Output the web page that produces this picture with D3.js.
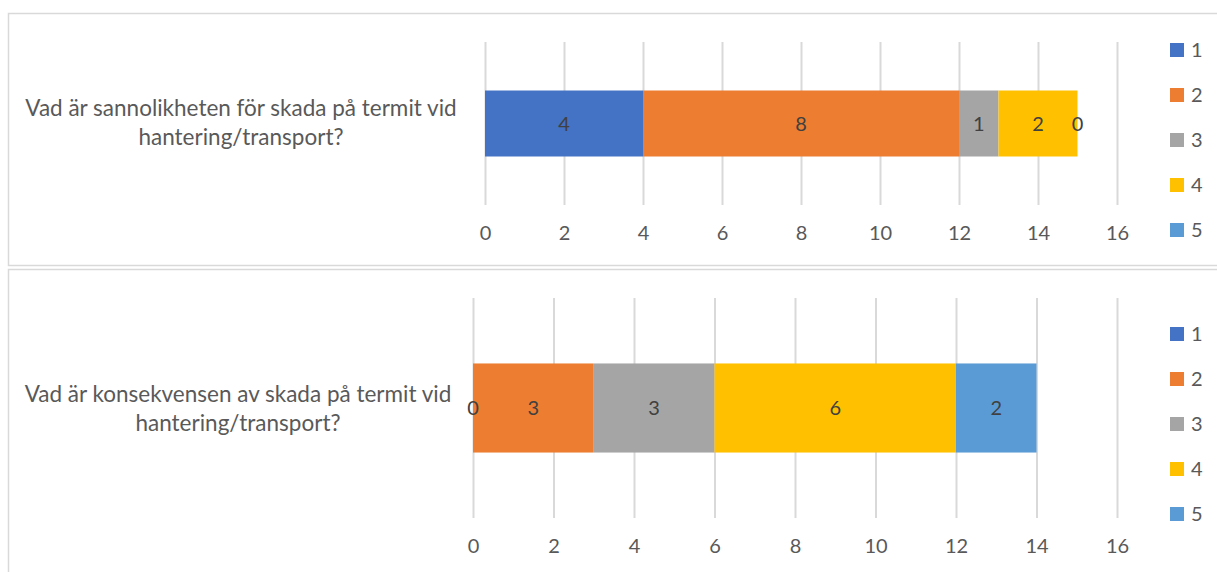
<!DOCTYPE html>
<html>
<head>
<meta charset="utf-8">
<script src="https://cdn.jsdelivr.net/npm/d3@7"></script>
<style>
  body { margin: 0; background: #fff; }
  text { font-family: Lato, "Open Sans", sans-serif; }
</style>
</head>
<body>
<div id="chart"></div>
<script>
// data
const seriesNames = ["1", "2", "3", "4", "5"];
const seriesColors = ["#4472C4", "#ED7D31", "#A5A5A5", "#FFC000", "#5B9BD5"];
const question1 = ["Vad är sannolikheten för skada på termit vid", "hantering/transport?"];
const question2 = ["Vad är konsekvensen av skada på termit vid", "hantering/transport?"];
const sannolikhet = [4, 8, 1, 2, 0];
const konsekvens = [0, 3, 3, 6, 2];
const xTicks = [0, 2, 4, 6, 8, 10, 12, 14, 16];

let svg = d3.select("#chart").append("svg")
    .attr("width", 1217)
    .attr("height", 572);

/* panel frames */
svg.append("rect")
    .attr("x", 8.5).attr("y", 13.5)
    .attr("width", 1230).attr("height", 252)
    .attr("fill", "none").attr("stroke", "#D9D9D9").attr("stroke-width", 1.5);

svg.append("rect")
    .attr("x", 8.5).attr("y", 269.5)
    .attr("width", 1230).attr("height", 320)
    .attr("fill", "none").attr("stroke", "#D9D9D9").attr("stroke-width", 1.5);

drawPanel({
  lines: question1, values: sannolikhet,
  left: 485, right: 1117, top: 42, bottom: 205,
  labelX: 241, labelY: 108, legendY: 50
});

drawPanel({
  lines: question2, values: konsekvens,
  left: 473, right: 1117, top: 298, bottom: 518,
  labelX: 238, labelY: 394, legendY: 334
});

function drawPanel(cfg) {

  let g = svg.append("g");
  let key = cfg.lines.join(" ");

  let xScale = d3.scaleLinear()
      .domain([0, 16])
      .range([cfg.left, cfg.right]);

  let yScale = d3.scaleBand()
      .domain([key])
      .range([cfg.top, cfg.bottom])
      .paddingInner(0)
      .paddingOuter(0.735);

  // gridlines
  let grid = g.append("g")
      .attr("transform", "translate(0," + cfg.bottom + ")")
      .call(d3.axisBottom(xScale).tickValues(xTicks).tickSize(-(cfg.bottom - cfg.top)).tickFormat(""));
  grid.select(".domain").remove();
  grid.selectAll("line").attr("stroke", "#D9D9D9").attr("stroke-width", 2);

  // tick labels
  let axis = g.append("g")
      .attr("transform", "translate(0," + cfg.bottom + ")")
      .call(d3.axisBottom(xScale).tickValues(xTicks).tickSize(0).tickPadding(21));
  axis.select(".domain").remove();
  axis.selectAll("text")
      .attr("font-size", 20)
      .attr("font-family", "Lato, 'Open Sans', sans-serif")
      .attr("fill", "#595959");

  // stacked segments
  let row = {};
  seriesNames.forEach(function(s, i) { row[s] = cfg.values[i]; });
  let stacked = d3.stack().keys(seriesNames)([row]);

  g.selectAll(".bar")
      .data(stacked)
      .enter()
      .append("rect")
      .attr("class", "bar")
      .attr("fill", function(d, i) { return seriesColors[i]; })
      .attr("x", function(d) { return xScale(d[0][0]); })
      .attr("width", function(d) { return xScale(d[0][1]) - xScale(d[0][0]); })
      .attr("y", yScale(key))
      .attr("height", yScale.bandwidth());

  g.selectAll(".label")
      .data(stacked)
      .enter()
      .append("text")
      .attr("class", "label")
      .attr("x", function(d) { return xScale((d[0][0] + d[0][1]) / 2); })
      .attr("y", yScale(key) + yScale.bandwidth() / 2)
      .attr("dy", ".35em")
      .attr("text-anchor", "middle")
      .attr("font-size", 20)
      .style("fill", "#404040")
      .text(function(d) { return d[0][1] - d[0][0]; });

  // category label
  g.append("text")
      .attr("x", cfg.labelX)
      .attr("y", cfg.labelY)
      .attr("text-anchor", "middle")
      .attr("font-size", 22.5)
      .style("fill", "#595959")
      .selectAll("tspan")
      .data(cfg.lines)
      .enter()
      .append("tspan")
      .attr("x", cfg.labelX)
      .attr("y", function(d, i) { return cfg.labelY + i * 29; })
      .attr("dy", ".35em")
      .text(function(d) { return d; });

  // legend
  let legend = g.selectAll(".legend")
      .data(seriesNames)
      .enter()
      .append("g")
      .attr("class", "legend")
      .attr("transform", function(d, i) { return "translate(1170," + (cfg.legendY + i * 45) + ")"; });

  legend.append("rect")
      .attr("x", 0).attr("y", -7)
      .attr("width", 14).attr("height", 14)
      .attr("fill", function(d, i) { return seriesColors[i]; });

  legend.append("text")
      .attr("x", 21)
      .attr("dy", ".35em")
      .attr("font-size", 20)
      .style("fill", "#595959")
      .text(function(d) { return d; });
}
</script>
</body>
</html>
